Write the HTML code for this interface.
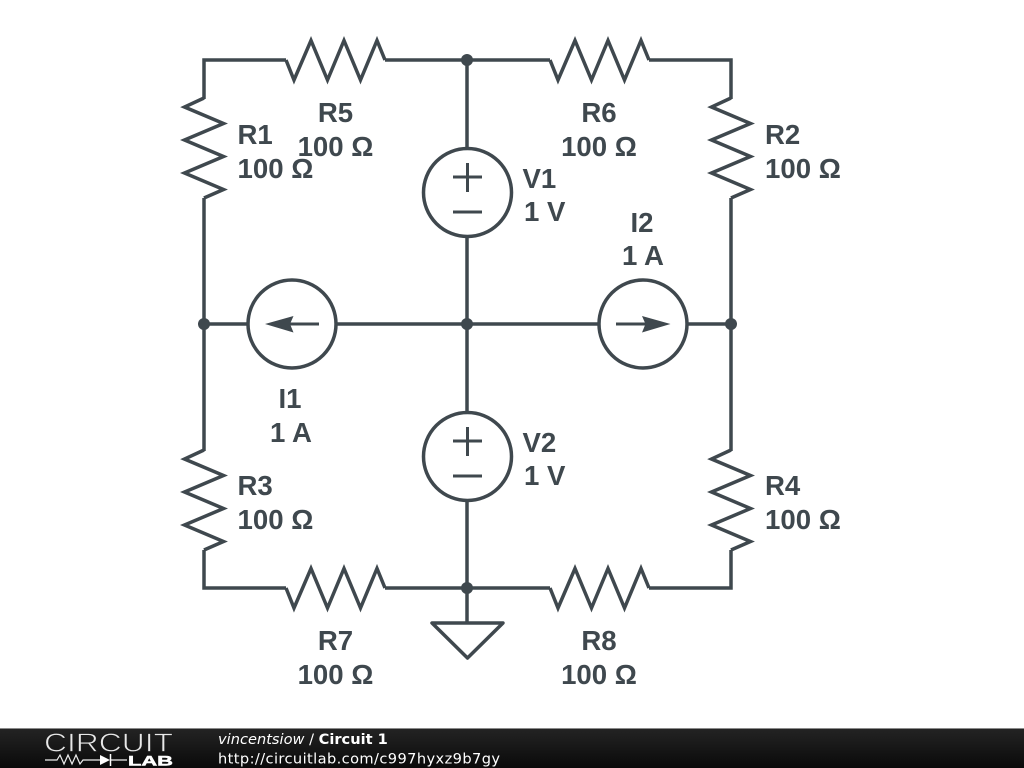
<!DOCTYPE html>
<html>
<head>
<meta charset="utf-8">
<style>
html,body{margin:0;padding:0;background:#fff;width:1024px;height:768px;overflow:hidden}
svg{display:block}
.w{fill:none;stroke:#3f484e;stroke-width:3.5;stroke-linejoin:miter;stroke-miterlimit:10;stroke-linecap:butt}
.t{font-family:"Liberation Sans",sans-serif;font-weight:700;font-size:27.6px;fill:#3f484e}
.f{font-family:"DejaVu Sans",sans-serif;font-size:14.6px;fill:#fff}
</style>
</head>
<body>
<svg width="1024" height="768" viewBox="0 0 1024 768" xmlns="http://www.w3.org/2000/svg">
<defs>
<linearGradient id="g" x1="0" y1="0" x2="0" y2="1">
<stop offset="0" stop-color="#232323"/>
<stop offset="1" stop-color="#0a0a0a"/>
</linearGradient>
</defs>
<rect width="1024" height="768" fill="#fff"/>

<!-- wires -->
<path class="w" d="M204 99V60H286M385 60H550M649 60H731V99"/>
<path class="w" d="M204 198V451M731 198V451"/>
<path class="w" d="M204 550V588H286M385 588H550M649 588H731V550"/>
<path class="w" d="M467 60V148M467 237V412M467 501V622"/>
<path class="w" d="M204 324H248M336 324H599M687 324H731"/>

<!-- vertical resistors -->
<path class="w" d="M204 98L184.500 107L223.500 123.500L184.500 140L223.500 156.500L184.500 173L223.500 189.500L204 198"/>
<path class="w" d="M731 98L711.500 107L750.500 123.500L711.500 140L750.500 156.500L711.500 173L750.500 189.500L731 198"/>
<path class="w" d="M204 450L184.500 459L223.500 475.500L184.500 492L223.500 508.500L184.500 525L223.500 541.500L204 550"/>
<path class="w" d="M731 450L711.500 459L750.500 475.500L711.500 492L750.500 508.500L711.500 525L750.500 541.500L731 550"/>

<!-- horizontal resistors -->
<path class="w" d="M286 60L294 80L311 40.500L327.500 80L344 40.500L360.500 80L377 40.500L385 60"/>
<path class="w" d="M550 60L558 80L575 40.500L591.500 80L608 40.500L624.500 80L641 40.500L649 60"/>
<path class="w" d="M286 588L294 608L311 568.500L327.500 608L344 568.500L360.500 608L377 568.500L385 588"/>
<path class="w" d="M550 588L558 608L575 568.500L591.500 608L608 568.500L624.500 608L641 568.500L649 588"/>

<!-- voltage sources -->
<circle class="w" cx="467.5" cy="192.5" r="44"/>
<path class="w" style="stroke-width:3" d="M453 177H482M467.500 163V192M453 212H482"/>
<circle class="w" cx="467.5" cy="456.5" r="44"/>
<path class="w" style="stroke-width:3" d="M453 441H482M467.500 427V456M453 476H482"/>

<!-- current sources -->
<circle class="w" cx="292" cy="324" r="44"/>
<path class="w" d="M319 324H285" style="stroke-width:3"/>
<path d="M265 324L293.500 316L290 324L293.500 332.500Z" fill="#3f484e"/>
<circle class="w" cx="643" cy="324" r="44"/>
<path class="w" d="M616 324H650" style="stroke-width:3"/>
<path d="M670.500 324L642 316L645.500 324L642 332.500Z" fill="#3f484e"/>

<!-- ground -->
<path class="w" d="M432 623H503L467.500 658Z" style="stroke-linejoin:round"/>

<!-- junctions -->
<g fill="#3f484e">
<circle cx="467" cy="60" r="6"/>
<circle cx="204" cy="324" r="6"/>
<circle cx="467" cy="324" r="6"/>
<circle cx="731" cy="324" r="6"/>
<circle cx="467" cy="588" r="6"/>
</g>

<!-- labels -->
<g class="t">
<text x="237.500" y="144">R1</text><text x="237.500" y="178">100 Ω</text>
<text x="765" y="144">R2</text><text x="765" y="178">100 Ω</text>
<text x="237.500" y="495">R3</text><text x="237.500" y="529">100 Ω</text>
<text x="765" y="495">R4</text><text x="765" y="529">100 Ω</text>
<text x="522.500" y="188">V1</text><text x="524" y="221">1 V</text>
<text x="522.500" y="452">V2</text><text x="524" y="485">1 V</text>
</g>
<g class="t" text-anchor="middle">
<text x="335.500" y="122">R5</text><text x="335.500" y="156">100 Ω</text>
<text x="599" y="122">R6</text><text x="599" y="156">100 Ω</text>
<text x="335.500" y="650">R7</text><text x="335.500" y="684">100 Ω</text>
<text x="599" y="650">R8</text><text x="599" y="684">100 Ω</text>
<text x="290" y="408">I1</text><text x="291" y="442">1 A</text>
<text x="642" y="232">I2</text><text x="643" y="265">1 A</text>
</g>

<!-- footer -->
<rect x="0" y="728" width="1024" height="1" fill="#8a8a8a"/>
<rect x="0" y="729" width="1024" height="39" fill="url(#g)"/>
<text x="44" y="751.500" font-family="'Liberation Sans',sans-serif" font-size="26" fill="#e8e8e8" stroke="#1c1c1c" stroke-width="0.8" paint-order="fill stroke" textLength="129" lengthAdjust="spacingAndGlyphs">CIRCUIT</text>
<path d="M45 760H57L60 755L64 764L68 755L72 764L76 755L80 764L83 760H100M110 760H127" fill="none" stroke="#eee" stroke-width="1.200"/>
<path d="M100 755V765L110 760Z" fill="#fff"/>
<path d="M110.500 754V766" stroke="#fff" stroke-width="1.500"/>
<text x="128" y="765.500" font-family="'Liberation Sans',sans-serif" font-weight="700" font-size="14" fill="#fff" stroke="#fff" stroke-width="0.500" textLength="45" lengthAdjust="spacingAndGlyphs">LAB</text>
<text class="f" x="218" y="744" font-style="italic">vincentsiow <tspan font-style="normal">/</tspan> <tspan font-style="normal" font-weight="700">Circuit 1</tspan></text>
<text class="f" x="218" y="763.500" textLength="282">http://circuitlab.com/c997hyxz9b7gy</text>
</svg>
</body>
</html>
